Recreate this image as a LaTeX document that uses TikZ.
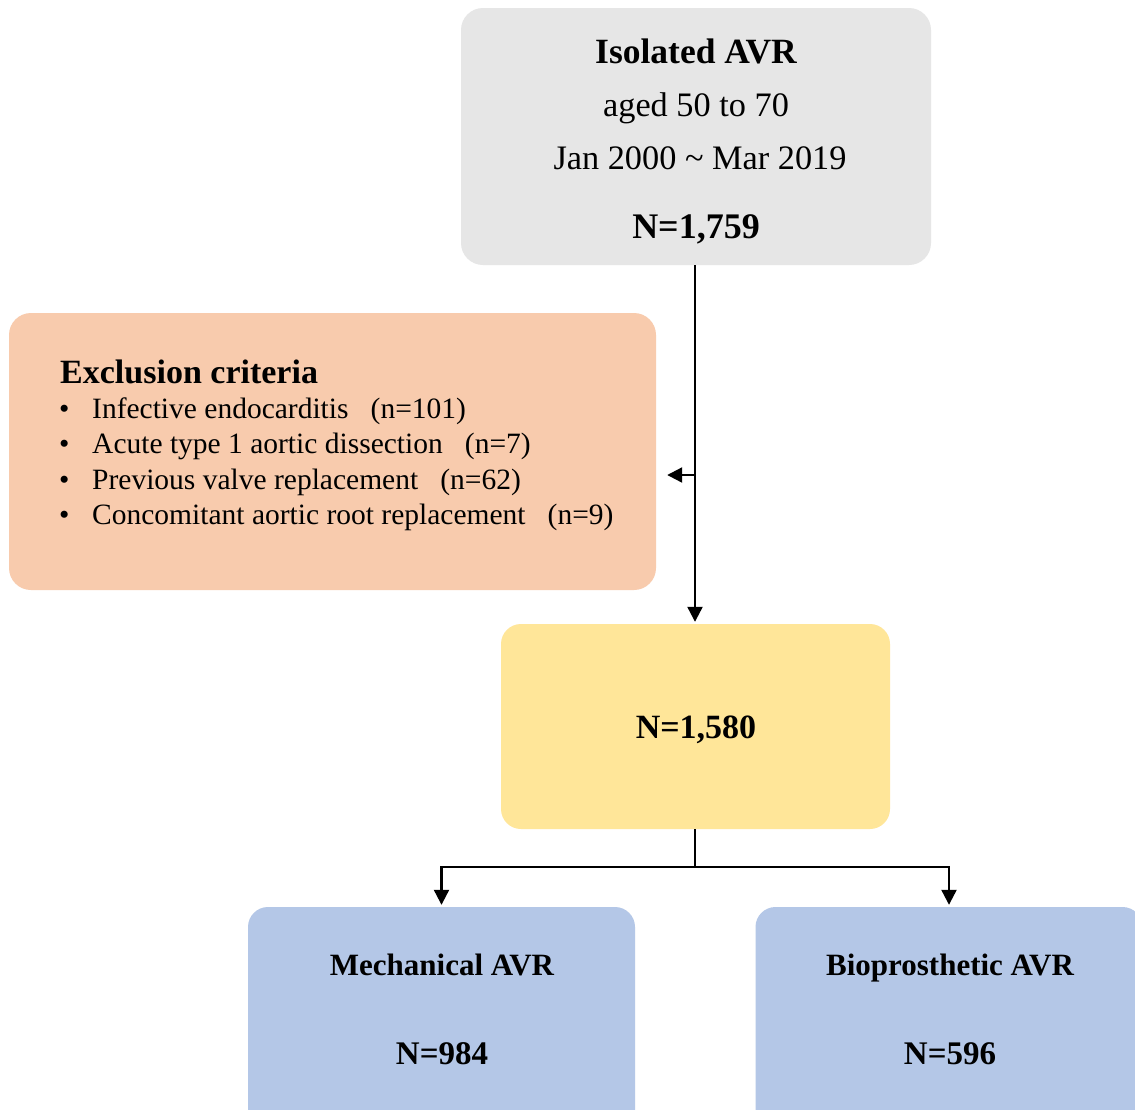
\documentclass[tikz,border=0pt]{standalone}
\usepackage{fontspec}
\setmainfont{Liberation Serif}
\usetikzlibrary{arrows.meta}
\definecolor{boxgray}{HTML}{E6E6E6}
\definecolor{boxorange}{HTML}{F8CBAD}
\definecolor{boxyellow}{HTML}{FFE699}
\definecolor{boxblue}{HTML}{B4C7E7}
\tikzset{
  box/.style={draw=none, rounded corners=22pt, inner sep=0pt},
  conn/.style={line width=2.2pt, black},
  arr/.style={conn, -{Triangle[length=15pt,width=15pt]}},
  txt/.style={inner sep=0pt, anchor=base},
  ltxt/.style={inner sep=0pt, anchor=base west},
}
\begin{document}
\begin{tikzpicture}[x=1pt,y=-1pt]
\clip (0,0) rectangle (1135,1109);
\fill[white] (0,0) rectangle (1135,1109);
% boxes
\node[box, fill=boxgray, minimum width=470pt, minimum height=257pt] (top) at (696,136.5) {};
\node[box, fill=boxorange, minimum width=647pt, minimum height=277pt] (excl) at (332.5,451.5) {};
\node[box, fill=boxyellow, minimum width=389pt, minimum height=205pt, rounded corners=20pt] (mid) at (695.5,726.5) {};
\node[box, fill=boxblue, minimum width=387pt, minimum height=223pt, rounded corners=20pt] (mech) at (441.5,1018.5) {};
\node[box, fill=boxblue, minimum width=387pt, minimum height=223pt, rounded corners=20pt] (bio) at (949,1018.5) {};
% top text
\node[txt] (t1) at (696,63) {\fontsize{35.5}{40}\selectfont\bfseries Isolated AVR};
\node[txt] (t2) at (696,116) {\fontsize{34.3}{40}\selectfont aged 50 to 70};
\node[txt] (t3) at (700,169) {\fontsize{34.3}{40}\selectfont Jan 2000 \textasciitilde{} Mar 2019};
\node[txt] (t4) at (696,238) {\fontsize{36}{40}\selectfont\bfseries N=1,759};
% exclusion text
\node[ltxt] (e0) at (60,383) {\fontsize{34}{40}\selectfont\bfseries Exclusion criteria};
\node[ltxt] (b1) at (59,418) {\fontsize{29.5}{34}\selectfont\textbullet};
\node[ltxt] (b2) at (59,453) {\fontsize{29.5}{34}\selectfont\textbullet};
\node[ltxt] (b3) at (59,489) {\fontsize{29.5}{34}\selectfont\textbullet};
\node[ltxt] (b4) at (59,524) {\fontsize{29.5}{34}\selectfont\textbullet};
\node[ltxt] (e1) at (92,418) {\fontsize{29.5}{34}\selectfont Infective endocarditis\hspace{0.75em}(n=101)};
\node[ltxt] (e2) at (92,453) {\fontsize{29.5}{34}\selectfont Acute type 1 aortic dissection\hspace{0.75em}(n=7)};
\node[ltxt] (e3) at (92,489) {\fontsize{29.5}{34}\selectfont Previous valve replacement\hspace{0.75em}(n=62)};
\node[ltxt] (e4) at (92,524) {\fontsize{29.5}{34}\selectfont Concomitant aortic root replacement\hspace{0.75em}(n=9)};
% middle text
\node[txt] (m1) at (696,738) {\fontsize{34}{40}\selectfont\bfseries N=1,580};
% bottom text
\node[txt] (k1) at (442,975) {\fontsize{31}{36}\selectfont\bfseries Mechanical AVR};
\node[txt] (k2) at (442,1064) {\fontsize{33}{36}\selectfont\bfseries N=984};
\node[txt] (p1) at (950,975) {\fontsize{31}{36}\selectfont\bfseries Bioprosthetic AVR};
\node[txt] (p2) at (950,1064) {\fontsize{33}{36}\selectfont\bfseries N=596};
% connectors
\coordinate (br) at (695,475);
\coordinate (j) at (695,867);
\draw[arr, shorten >=2pt] (top.south -| br) -- (mid.north -| br);
\draw[arr, shorten >=11pt] (br) -- (br -| excl.east);
\draw[conn] (mid.south -| j) -- (j);
\draw[arr, shorten >=2pt] (j) -| (mech.north);
\draw[arr, shorten >=2pt] (j) -| (bio.north);
\end{tikzpicture}
\end{document}
